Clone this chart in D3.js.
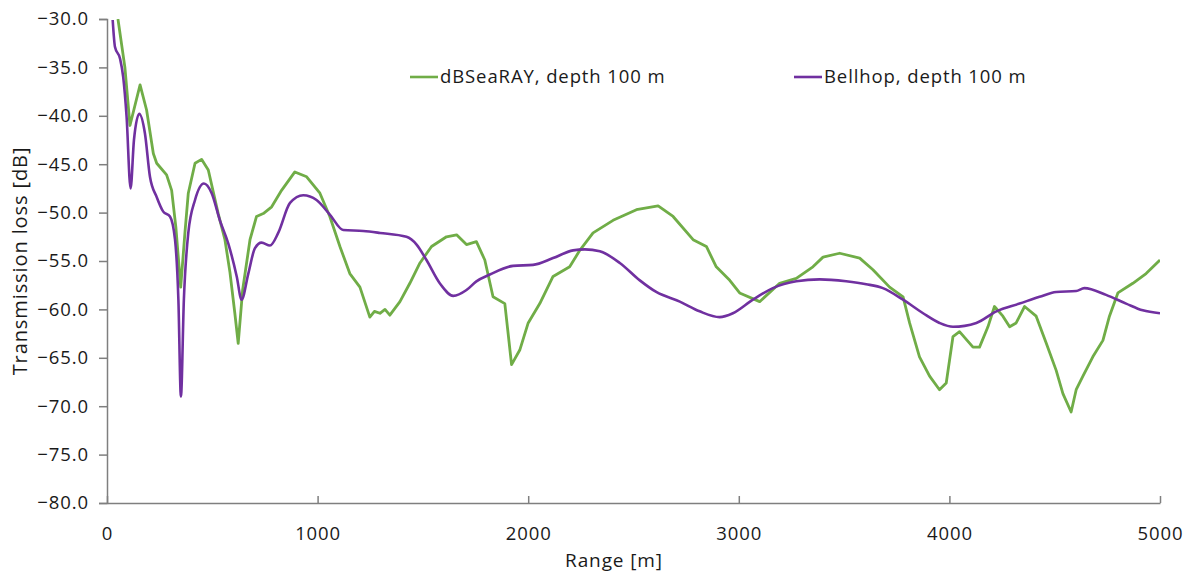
<!DOCTYPE html>
<html>
<head>
<meta charset="utf-8">
<script src="https://cdn.jsdelivr.net/npm/d3@7"></script>
<style>
  body { margin: 0; background: #fff; }
  text { font-family: 'Open Sans', sans-serif; fill: #1a1a1a; letter-spacing: 0.9px; }
</style>
</head>
<body>
<div class="chart-container"></div>
<script>
// ranges in metres, transmission loss in dB
const seaRayRange = [52, 85, 109, 157, 188, 220, 236, 283, 307, 327, 350, 370, 386, 418, 449, 481, 528, 560, 584, 607, 623, 644, 679, 710, 742, 782, 829, 892, 948, 1011, 1058, 1106, 1153, 1201, 1248, 1270, 1296, 1320, 1343, 1391, 1438, 1486, 1541, 1612, 1660, 1707, 1754, 1794, 1833, 1889, 1921, 1960, 2000, 2055, 2118, 2197, 2245, 2308, 2403, 2514, 2617, 2688, 2783, 2846, 2893, 2957, 3004, 3099, 3194, 3273, 3352, 3400, 3479, 3574, 3637, 3716, 3780, 3811, 3858, 3906, 3953, 3985, 4017, 4048, 4112, 4143, 4183, 4214, 4254, 4286, 4317, 4357, 4412, 4460, 4507, 4539, 4578, 4602, 4634, 4681, 4729, 4760, 4800, 4871, 4934, 5000]
const seaRayLoss = [-30.0, -35.0, -41.0, -36.8, -39.4, -43.9, -44.9, -46.1, -47.7, -51.5, -57.7, -52.1, -48.0, -44.9, -44.5, -45.6, -50.1, -52.8, -56.2, -60.4, -63.5, -58.0, -52.8, -50.4, -50.1, -49.4, -47.7, -45.8, -46.3, -48.0, -50.4, -53.5, -56.3, -57.7, -60.8, -60.2, -60.4, -60.0, -60.6, -59.2, -57.3, -55.2, -53.5, -52.5, -52.3, -53.3, -53.0, -54.9, -58.7, -59.4, -65.7, -64.2, -61.4, -59.4, -56.6, -55.6, -53.9, -52.1, -50.8, -49.7, -49.3, -50.4, -52.8, -53.5, -55.6, -57.0, -58.3, -59.2, -57.3, -56.8, -55.6, -54.6, -54.2, -54.7, -55.9, -57.7, -58.7, -61.4, -64.9, -66.9, -68.3, -67.6, -62.8, -62.3, -63.9, -63.9, -61.8, -59.7, -60.7, -61.8, -61.4, -59.7, -60.7, -63.5, -66.3, -68.7, -70.6, -68.3, -66.9, -64.9, -63.2, -60.7, -58.3, -57.3, -56.3, -54.9]

const bellhopRange = [27, 38, 62, 77, 93, 112, 128, 153, 180, 204, 236, 267, 299, 323, 339, 351, 365, 386, 418, 460, 497, 536, 576, 616, 639, 671, 702, 734, 774, 813, 869, 932, 995, 1058, 1122, 1217, 1296, 1422, 1470, 1517, 1580, 1644, 1707, 1754, 1818, 1928, 2023, 2118, 2213, 2269, 2340, 2435, 2530, 2608, 2720, 2814, 2909, 2972, 3067, 3162, 3273, 3384, 3510, 3605, 3684, 3780, 3875, 3953, 4017, 4128, 4223, 4333, 4428, 4507, 4602, 4641, 4744, 4839, 4918, 5000]
const bellhopLoss = [-30.1, -32.9, -34.1, -36.0, -40.1, -47.5, -42.5, -39.8, -41.8, -46.3, -48.4, -49.9, -50.4, -52.8, -59.0, -69.0, -59.0, -52.1, -48.7, -47.0, -48.0, -50.8, -53.2, -56.6, -59.0, -56.3, -53.7, -53.1, -53.4, -52.1, -49.0, -48.2, -48.7, -50.2, -51.8, -51.9, -52.1, -52.5, -53.3, -54.9, -57.3, -58.6, -58.0, -57.1, -56.4, -55.5, -55.4, -54.7, -53.9, -53.8, -54.0, -55.2, -57.0, -58.2, -59.2, -60.2, -60.8, -60.4, -59.0, -57.8, -57.1, -56.9, -57.1, -57.4, -57.8, -59.0, -60.4, -61.4, -61.8, -61.4, -60.2, -59.4, -58.7, -58.2, -58.1, -57.8, -58.5, -59.4, -60.1, -60.4]

const xTicks = [0, 1000, 2000, 3000, 4000, 5000]
const yTicks = [-30, -35, -40, -45, -50, -55, -60, -65, -70, -75, -80]

const seriesNames = ['dBSeaRAY, depth 100 m', 'Bellhop, depth 100 m']
const seriesColors = ['#70ad47', '#7030a0']

const width = 1199
const height = 577
const margin = { top: 19, right: 39, bottom: 74, left: 107 }

const svg = d3
  .select('.chart-container')
  .append('svg')
  .attr('width', width)
  .attr('height', height)

const x = d3
  .scaleLinear()
  .domain([0, 5000])
  .range([margin.left, width - margin.right])

const y = d3
  .scaleLinear()
  .domain([-80, -30])
  .range([height - margin.bottom, margin.top])

// y axis
const yAxis = svg
  .append('g')
  .attr('transform', `translate(${margin.left},0)`)
  .call(d3.axisLeft(y).tickValues(yTicks).tickSize(8).tickPadding(10).tickFormat(d3.format('.1f')))
yAxis.select('.domain').attr('stroke', '#7f7f7f').attr('stroke-width', 1.5)
yAxis.selectAll('.tick line').attr('stroke', '#7f7f7f').attr('stroke-width', 1.5)
yAxis.selectAll('.tick text').attr('font-size', 18.5).attr('fill', '#1a1a1a')

// x axis, ticks point up into the plot
const xAxis = svg
  .append('g')
  .attr('transform', `translate(0,${y(-80)})`)
  .call(d3.axisBottom(x).tickValues(xTicks).tickSizeInner(-7).tickSizeOuter(0).tickPadding(24).tickFormat(d3.format('d')))
xAxis.select('.domain').attr('stroke', '#7f7f7f').attr('stroke-width', 1.5)
xAxis.selectAll('.tick line').attr('stroke', '#7f7f7f').attr('stroke-width', 1.5)
xAxis.selectAll('.tick text').attr('font-size', 18.5).attr('fill', '#1a1a1a')

// axis titles
svg
  .append('text')
  .attr('x', 614)
  .attr('y', 567)
  .attr('text-anchor', 'middle')
  .attr('font-size', 19)
  .text('Range [m]')

svg
  .append('text')
  .attr('transform', `translate(27,${(y(-30) + y(-80)) / 2}) rotate(-90)`)
  .attr('text-anchor', 'middle')
  .attr('font-size', 20)
  .text('Transmission loss [dB]')

// lines
svg
  .append('clipPath')
  .attr('id', 'plot-clip')
  .append('rect')
  .attr('x', x(0))
  .attr('y', y(-30))
  .attr('width', x(5000) - x(0))
  .attr('height', y(-80) - y(-30))

const seaRay = seaRayRange.map((r, i) => [r, seaRayLoss[i]])
const bellhop = bellhopRange.map((r, i) => [r, bellhopLoss[i]])

const line = d3
  .line()
  .x((d) => x(d[0]))
  .y((d) => y(d[1]))

svg
  .append('path')
  .datum(seaRay)
  .attr('clip-path', 'url(#plot-clip)')
  .attr('fill', 'none')
  .attr('stroke', seriesColors[0])
  .attr('stroke-width', 2.8)
  .attr('stroke-linejoin', 'round')
  .attr('d', line.curve(d3.curveLinear))

svg
  .append('path')
  .datum(bellhop)
  .attr('clip-path', 'url(#plot-clip)')
  .attr('fill', 'none')
  .attr('stroke', seriesColors[1])
  .attr('stroke-width', 2.6)
  .attr('stroke-linejoin', 'round')
  .attr('d', line.curve(d3.curveMonotoneX))

// legend
const legendX = [410, 794]
const legend = svg
  .selectAll('.legend')
  .data(seriesNames)
  .enter()
  .append('g')
  .attr('class', 'legend')
  .attr('transform', (d, i) => `translate(${legendX[i]},77)`)

legend
  .append('line')
  .attr('x1', 0)
  .attr('x2', 28)
  .attr('stroke', (d, i) => seriesColors[i])
  .attr('stroke-width', 2.6)

legend
  .append('text')
  .attr('x', 30)
  .attr('dy', '0.35em')
  .attr('font-size', 18.5)
  .text((d) => d)
</script>
</body>
</html>
